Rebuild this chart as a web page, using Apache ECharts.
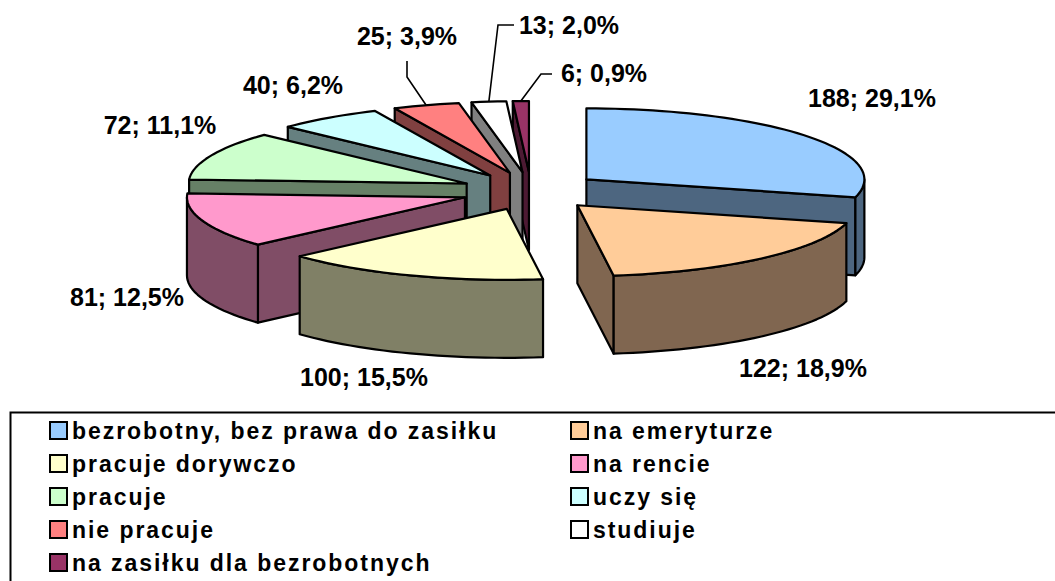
<!DOCTYPE html>
<html><head><meta charset="utf-8">
<style>html,body{margin:0;padding:0;background:#fff}#c{width:1055px;height:581px}
#c text[style*="23px"]{letter-spacing:1.95px}</style>
<script src="https://cdn.jsdelivr.net/npm/echarts@6/dist/echarts.min.js"></script>
</head><body><div id="c"></div>
<script>
// data
const categories = ['bezrobotny, bez prawa do zasiłku','na emeryturze','pracuje dorywczo','na rencie','pracuje','uczy się','nie pracuje','studiuje','na zasiłku dla bezrobotnych'];
const values = [188,122,100,81,72,40,25,13,6];
// styles
const topColors = ['#99CCFF','#FFCC99','#FFFFCC','#FF99CC','#CCFFCC','#CCFFFF','#FF8080','#FFFFFF','#993366'];
const sideColors = ['#4D6680','#806650','#808066','#804D66','#668066','#668080','#804040','#808080','#4D1A33'];
// layout
const pie = {cx:531, cy:191, a:278, b:71, depth:78, explodeX:70, explodeY:19};
const labelCenters = [[872,98],[803,368],[364,377],[127,297],[160,125],[293,85],[407,36],[569,25],[604,73]];
const leaderStarts = [null,null,null,null,null,null,[[407,61],[407,77]],[[514,25],[498,25]],[[552,74],[541,74]]];

const total = values.reduce((s,v)=>s+v,0);
const rad = d => d*Math.PI/180;
let acc = 0;
const slices = values.map((v,i)=>{
  const t1 = acc/total*360; acc += v; const t2 = acc/total*360; const m=(t1+t2)/2;
  return {i,v,t1,t2,m,
    ax: pie.cx + pie.explodeX*Math.sin(rad(m)),
    ay: pie.cy - pie.explodeY*Math.cos(rad(m))};
});
const rim = (s,t,dz=0)=>[s.ax+pie.a*Math.sin(rad(t)), s.ay-pie.b*Math.cos(rad(t))+dz];
const arc = (s,t1,t2,dz=0)=>{
  const n=Math.max(2,Math.ceil((t2-t1)/2)), out=[];
  for(let k=0;k<=n;k++) out.push(rim(s,t1+(t2-t1)*k/n,dz));
  return out;
};
const line = {stroke:'#000',lineWidth:2.2,lineJoin:'round'};
function poly(points,fill){return {type:'polygon',shape:{points},style:Object.assign({fill},line)};}
function radialFace(s,t,fill){
  const p=rim(s,t);
  return poly([[s.ax,s.ay],p,[p[0],p[1]+pie.depth],[s.ax,s.ay+pie.depth]],fill);
}
function drawSlice(s){
  const ch=[], side=sideColors[s.i], d=pie.depth;
  if(Math.sin(rad(s.t1))<0) ch.push(radialFace(s,s.t1,side));
  if(Math.sin(rad(s.t2))>0) ch.push(radialFace(s,s.t2,side));
  const w1=Math.max(s.t1,90), w2=Math.min(s.t2,270);
  if(w2>w1) ch.push(poly(arc(s,w1,w2).concat(arc(s,w1,w2,d).reverse()),side));
  ch.push(poly([[s.ax,s.ay]].concat(arc(s,s.t1,s.t2)),topColors[s.i]));
  const ls=leaderStarts[s.i];
  if(ls) ch.push({type:'polyline',shape:{points:ls.concat([rim(s,s.m)])},style:{stroke:'#000',lineWidth:1.6,fill:null}});
  const pct=(s.v/total*100).toFixed(1).replace('.',',');
  ch.push({type:'text',style:{text:s.v+'; '+pct+'%',x:labelCenters[s.i][0],y:labelCenters[s.i][1],align:'center',verticalAlign:'middle',
    font:'bold 25px "Liberation Sans", Arial, sans-serif',fill:'#000'}});
  return {type:'group',children:ch};
}
// back to front
const order = slices.slice().sort((p,q)=>p.ay-q.ay);
const series = order.map(s=>({
  type:'custom',name:categories[s.i],coordinateSystem:'none',silent:true,
  itemStyle:{color:topColors[s.i]},
  data:[[s.v]],
  renderItem:()=>drawSlice(s)
}));
const legendBase = {orient:'vertical',icon:'rect',itemWidth:17,itemHeight:17,itemGap:10,selectedMode:false,top:419,height:200,
  itemStyle:{borderColor:'#000',borderWidth:2},
  textStyle:{fontFamily:'"Liberation Sans", Arial, sans-serif',fontWeight:'bold',fontSize:23,color:'#000'},padding:0};
const chart = echarts.init(document.getElementById('c'),null,{renderer:'svg'});
chart.setOption({
  animation:false,backgroundColor:'#fff',
  legend:[
    Object.assign({},legendBase,{left:49,data:categories.filter((_,i)=>i%2===0)}),
    Object.assign({},legendBase,{left:570,data:categories.filter((_,i)=>i%2===1)})
  ],
  graphic:[{type:'rect',left:8,top:410,shape:{width:1100,height:220},style:{fill:null,stroke:'#000',lineWidth:2},silent:true}],
  series
});
</script></body></html>
